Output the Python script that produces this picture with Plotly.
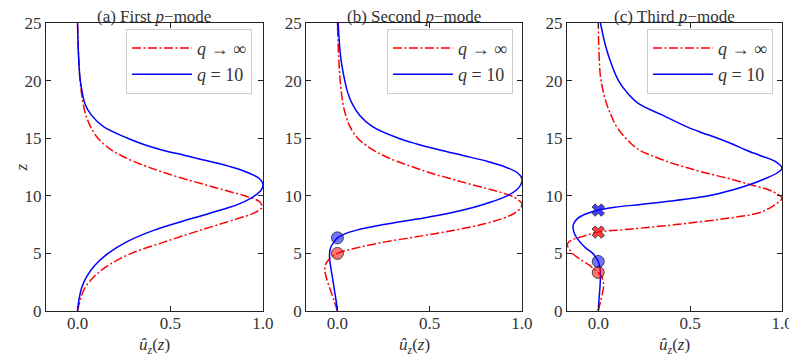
import plotly.graph_objects as go
from plotly.subplots import make_subplots

# (a) first p-mode
z_a_inf = [0, 1, 2, 3, 4, 5, 6, 7, 8, 8.5, 9, 9.5, 10, 10.5, 11, 11.5, 12, 12.5, 13, 13.5, 14,
           15, 16, 17, 18, 20, 22, 25]
u_a_inf = [0, 0.015, 0.04, 0.09, 0.17, 0.29, 0.47, 0.66, 0.86, 0.95, 0.995, 0.98, 0.90, 0.79, 0.68, 0.57,
           0.47, 0.38, 0.30, 0.235, 0.18, 0.11, 0.07, 0.045, 0.03, 0.014, 0.006, 0]
z_a_q10 = [0, 1, 2, 3, 4, 5, 6, 7, 8, 9, 9.5, 10, 10.5, 11, 11.5, 12, 12.5, 13, 13.5, 14, 14.5,
           15, 16, 17, 18, 20, 22, 25]
u_a_q10 = [0, 0.008, 0.022, 0.05, 0.095, 0.165, 0.265, 0.41, 0.61, 0.82, 0.90, 0.955, 0.99, 1.0, 0.98,
           0.92, 0.83, 0.71, 0.58, 0.45, 0.35, 0.27, 0.14, 0.075, 0.04, 0.015, 0.006, 0]

# (b) second p-mode
z_b_inf = [0, 1, 2, 3, 3.5, 4, 4.5, 5, 5.5, 6, 6.5, 7, 7.5, 8, 8.5, 9, 9.3, 9.7, 10, 10.5, 11,
           11.5, 12, 12.5, 13, 13.5, 14, 15, 16, 17, 18, 20, 22, 25]
u_b_inf = [0, -0.02, -0.042, -0.062, -0.068, -0.065, -0.045, 0, 0.11, 0.26, 0.45, 0.63, 0.78, 0.89, 0.96,
           0.995, 1.0, 0.975, 0.94, 0.84, 0.72, 0.61, 0.50, 0.41, 0.32, 0.25, 0.19, 0.11, 0.068, 0.045,
           0.03, 0.015, 0.007, 0]
z_b_q10 = [0, 1, 2, 3, 4, 4.8, 5.5, 6, 6.35, 6.7, 7, 7.5, 8, 8.5, 9, 9.5, 10, 10.5, 11, 11.5, 12,
           12.5, 13, 13.5, 14, 14.5, 15, 16, 17, 18, 19, 20, 22, 25]
u_b_q10 = [0, -0.008, -0.018, -0.028, -0.038, -0.043, -0.037, -0.018, 0, 0.04, 0.10, 0.25, 0.44, 0.61,
           0.74, 0.84, 0.92, 0.97, 0.995, 1.0, 0.975, 0.91, 0.81, 0.68, 0.55, 0.43, 0.33, 0.19, 0.12, 0.08,
           0.055, 0.04, 0.018, 0.004]

# (c) third p-mode
z_c_inf = [0, 1, 2, 2.5, 3, 3.35, 3.7, 4, 4.5, 5, 5.5, 5.8, 6.1, 6.5, 6.85, 7.1, 7.5, 8, 8.5, 9, 9.5,
           9.8, 10.2, 10.5, 11, 11.5, 12, 12.5, 13, 13.5, 14, 15, 16, 17, 18, 20, 22, 25]
u_c_inf = [0, 0.015, 0.028, 0.028, 0.018, 0, -0.028, -0.05, -0.10, -0.14, -0.163, -0.168, -0.15, -0.08, 0,
           0.17, 0.42, 0.68, 0.87, 0.94, 0.985, 1.0, 0.97, 0.93, 0.82, 0.71, 0.58, 0.47, 0.37, 0.29, 0.22,
           0.15, 0.10, 0.07, 0.045, 0.015, 0.005, 0]
z_c_q10 = [0, 1, 2, 3, 3.5, 4, 4.3, 4.7, 5, 5.5, 6, 6.5, 7, 7.5, 8, 8.3, 8.55, 8.76, 9, 9.25, 9.5,
           10, 10.5, 11, 11.5, 12, 12.4, 13, 13.5, 14, 14.5, 15, 15.5, 16, 17, 18, 19, 20, 21.5, 23, 25]
u_c_q10 = [0, 0.004, 0.009, 0.012, 0.011, 0.006, 0, -0.015, -0.03, -0.07, -0.10, -0.123, -0.135, -0.136,
           -0.115, -0.085, -0.045, 0, 0.09, 0.23, 0.37, 0.60, 0.73, 0.83, 0.91, 0.975, 1.0, 0.96, 0.88,
           0.80, 0.73, 0.65, 0.56, 0.48, 0.35, 0.22, 0.155, 0.11, 0.07, 0.04, 0.012]

# zeros of the modes (marked on the dashed line)
node_b_circle_inf = [5.0]
node_b_circle_q10 = [6.35]
node_c_circle_inf = [3.35]
node_c_circle_q10 = [4.3]
node_c_cross_inf = [6.85]
node_c_cross_q10 = [8.76]

titles = ["(a) First <i>p</i>\u2212mode", "(b) Second <i>p</i>\u2212mode", "(c) Third <i>p</i>\u2212mode"]
label_inf = "<i>q</i> \u2192 \u221e"
label_q10 = "<i>q</i> = 10"

RED = "#ff0000"
BLUE = "#0000ff"
FONT = "Liberation Serif, DejaVu Serif, serif"
TXT = "#333333"

fig = make_subplots(rows=1, cols=3)

panels = [
    (z_a_inf, u_a_inf, z_a_q10, u_a_q10),
    (z_b_inf, u_b_inf, z_b_q10, u_b_q10),
    (z_c_inf, u_c_inf, z_c_q10, u_c_q10),
]
legends = ["legend", "legend2", "legend3"]

for i, (zi, ui, zq, uq) in enumerate(panels):
    col = i + 1
    fig.add_vline(x=0, line=dict(color="black", width=1.5, dash="5px,2.5px"), layer="below", row=1, col=col)
    fig.add_trace(go.Scatter(x=ui, y=zi, mode="lines", name=label_inf, legend=legends[i],
                             line=dict(color=RED, width=1.5, dash="9px,2.5px,2px,2.5px",
                                       shape="spline", smoothing=1.0)),
                  row=1, col=col)
    fig.add_trace(go.Scatter(x=uq, y=zq, mode="lines", name=label_q10, legend=legends[i],
                             line=dict(color=BLUE, width=1.5, shape="spline", smoothing=1.0)),
                  row=1, col=col)


def add_nodes(zs, color, symbol, col, size):
    fig.add_trace(go.Scatter(x=[0] * len(zs), y=zs, mode="markers", showlegend=False,
                             marker=dict(symbol=symbol, size=size, color=color,
                                         line=dict(color="rgba(40,40,40,0.8)", width=1))),
                  row=1, col=col)


add_nodes(node_b_circle_inf, "rgba(255,0,0,0.55)", "circle", 2, 12)
add_nodes(node_b_circle_q10, "rgba(0,0,255,0.55)", "circle", 2, 12)
add_nodes(node_c_circle_inf, "rgba(255,0,0,0.55)", "circle", 3, 12)
add_nodes(node_c_circle_q10, "rgba(0,0,255,0.55)", "circle", 3, 12)
add_nodes(node_c_cross_inf, "rgba(255,0,0,0.75)", "x", 3, 11)
add_nodes(node_c_cross_q10, "rgba(0,0,255,0.75)", "x", 3, 11)

domains = [[0.0, 0.2948], [0.3533, 0.6467], [0.7079, 1.0]]
for i in range(3):
    sfx = "" if i == 0 else str(i + 1)
    fig.layout["xaxis" + sfx].update(
        domain=domains[i], range=[-0.17, 1.0], tickvals=[0, 0.5, 1.0], ticktext=["0.0", "0.5", "1.0"],
        ticks="inside", ticklen=5, tickcolor="#222", showline=True, linecolor="#222", linewidth=1,
        mirror="allticks", showgrid=False, zeroline=False, automargin=False, ticklabelstandoff=-3,
        tickfont=dict(size=17, color=TXT))
    fig.layout["yaxis" + sfx].update(
        range=[0, 25], tickvals=[0, 5, 10, 15, 20, 25],
        ticks="inside", ticklen=5, tickcolor="#222", showline=True, linecolor="#222", linewidth=1,
        mirror="allticks", showgrid=False, zeroline=False, automargin=False,
        tickfont=dict(size=17, color=TXT))

    xc = (domains[i][0] + domains[i][1]) / 2
    fig.add_annotation(text=titles[i], x=xc, y=1.021, xref="paper", yref="paper", showarrow=False,
                       font=dict(size=17, color=TXT), xanchor="center", yanchor="middle")
    fig.add_annotation(text="<i>\u00fb</i><sub><i>z</i></sub>(<i>z</i>)", x=xc, y=-0.076, xref="paper",
                       yref="paper", showarrow=False, font=dict(size=17, color=TXT),
                       xanchor="center", yanchor="top")

fig.add_annotation(text="<i>z</i>", x=-0.049, y=0.5, xref="paper", yref="paper", showarrow=False,
                   textangle=-90, font=dict(size=17, color=TXT))

legend_x = [0.2799, 0.6345, 0.9878]
leg_style = dict(y=0.98, xanchor="right", yanchor="top", bgcolor="rgba(255,255,255,0.8)",
                 bordercolor="#cccccc", borderwidth=1, font=dict(size=18, color=TXT),
                 itemwidth=60)
fig.update_layout(
    legend=dict(x=legend_x[0], **leg_style),
    legend2=dict(x=legend_x[1], **leg_style),
    legend3=dict(x=legend_x[2], **leg_style),
)

# the page body adds an 8px margin, so the figure is 8px smaller than the window
fig.update_layout(
    template="none",
    width=789, height=351,
    margin=dict(l=38, r=15, t=15, b=48),
    plot_bgcolor="white", paper_bgcolor="white",
    font=dict(family=FONT, size=17, color=TXT),
)

fig.write_html("out.html")
